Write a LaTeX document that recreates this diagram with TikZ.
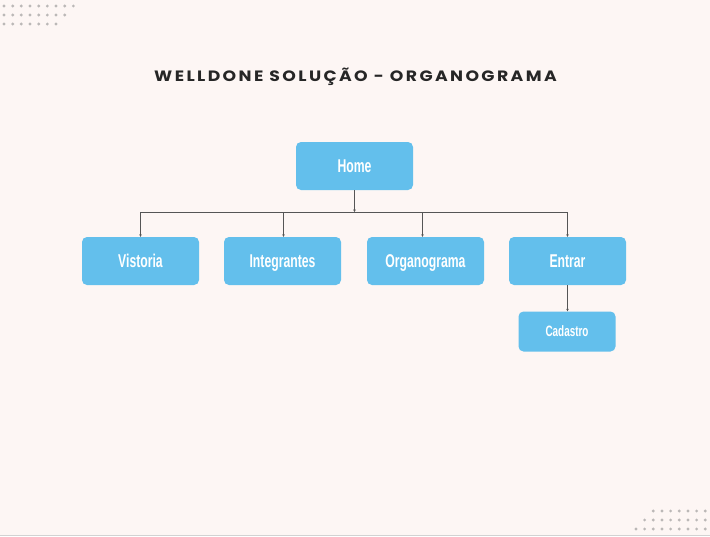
\documentclass[tikz,border=0pt]{standalone}
\usepackage{fontspec}
\usetikzlibrary{arrows.meta}
\newfontfamily\titlefont{Poppins}[LetterSpace=16, FakeStretch=1.15]
\newfontfamily\boxfont{Liberation Sans}[FakeStretch=0.66]
\definecolor{bg}{HTML}{FDF6F4}
\definecolor{boxblue}{HTML}{63BFEC}
\definecolor{dotgray}{HTML}{BBB8B7}
\definecolor{linegray}{HTML}{555555}
\begin{document}
\begin{tikzpicture}[x=1pt,y=-1pt,
  box/.style={fill=boxblue, rounded corners=5pt, minimum width=117pt, minimum height=48pt, inner sep=0pt, text=white, text height=13.2pt, text depth=0pt, font=\boxfont\bfseries\fontsize{18.5}{20}\selectfont},
  smallbox/.style={box, minimum width=97pt, minimum height=40pt, text height=10.7pt, font=\boxfont\bfseries\fontsize{15}{17}\selectfont},
  wire/.style={draw=linegray, line width=0.8pt},
  conn/.style={wire, -{Stealth[length=2.5pt,width=2.5pt]}},
  deco/.style={fill=dotgray}]
\fill[bg] (0,0) rectangle (710,536);
\useasboundingbox (0,0) rectangle (710,536);
\draw[gray!35, line width=1pt] (0,535.5) -- (710,535.5);
% decorative dots
\foreach \r in {0,1,2}{
  \pgfmathtruncatemacro{\n}{8-\r}
  \foreach \i in {0,...,\n}{
    \fill[deco] (4+8.67*\i, 6+9*\r) circle (1.6pt);
  }
  \pgfmathtruncatemacro{\m}{6+\r}
  \foreach \i in {0,...,\m}{
    \fill[deco] (705.3-8.67*\i, 511+9*\r) circle (1.6pt);
  }
}
\node[anchor=base, font=\titlefont\bfseries\fontsize{15}{18}\selectfont, text=black!85] (title) at (355.5,81) {WELLDONE SOLUÇÃO - ORGANOGRAMA};
\node[box] (home) at (354.5,166) {Home};
\node[box] (vis) at (140.5,261) {Vistoria};
\node[box] (int) at (282.5,261) {Integrantes};
\node[box] (org) at (425.5,261) {Organograma};
\node[box] (ent) at (567.5,261) {Entrar};
\node[smallbox] (cad) at (567,331.5) {Cadastro};
\coordinate (j) at (354.5,212);
\draw[conn] (home.south) -- (j);
\draw[wire] (vis.north |- j) -- (ent.north |- j);
\draw[conn] (vis.north |- j) -- (vis.north);
\draw[conn] ([xshift=1pt]int.north |- j) -- ([xshift=1pt]int.north);
\draw[conn] ([xshift=-3pt]org.north |- j) -- ([xshift=-3pt]org.north);
\draw[conn] (ent.north |- j) -- (ent.north);
\draw[conn] (ent.south) -- (ent.south |- cad.north);
\end{tikzpicture}
\end{document}
